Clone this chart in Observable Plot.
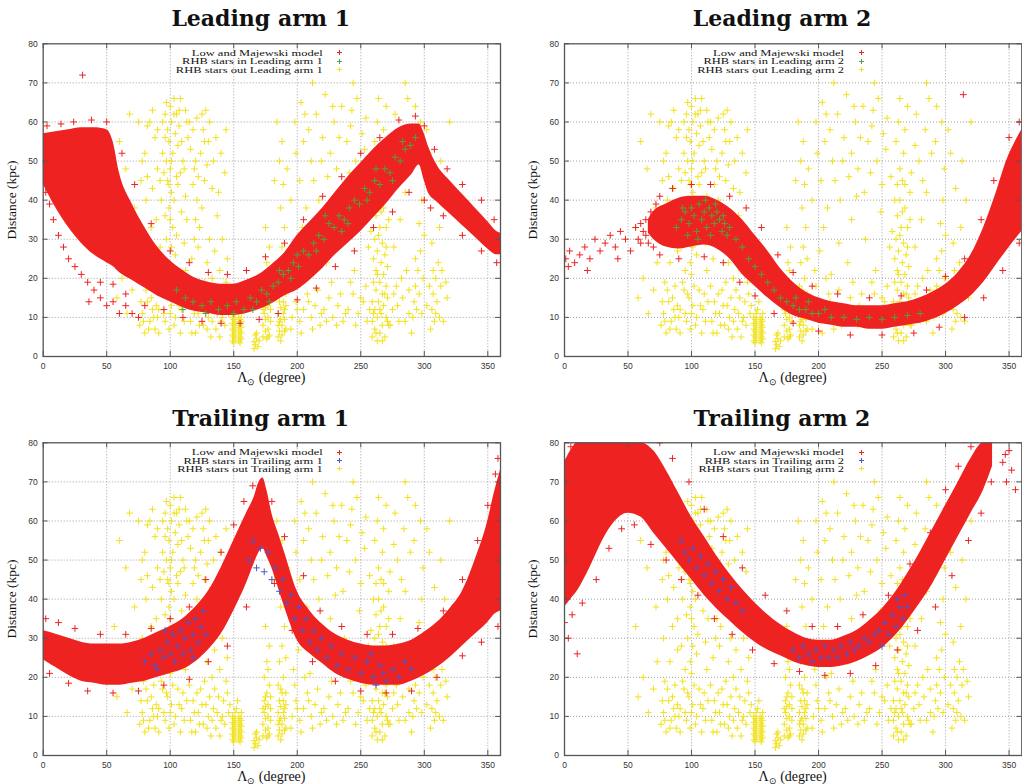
<!DOCTYPE html>
<html><head><meta charset="utf-8">
<script src="https://cdn.jsdelivr.net/npm/d3@7"></script>
<script src="https://cdn.jsdelivr.net/npm/@observablehq/plot@0.6"></script>
<style>
html,body{margin:0;padding:0;background:#fff;}
body{width:1022px;height:784px;overflow:hidden;position:relative;font-family:"Liberation Serif",serif;}
.abs{position:absolute;}
.title{position:absolute;font:bold 22px "DejaVu Serif",serif;text-align:center;width:400px;line-height:22px;color:#111;}
.xlab{position:absolute;font:14px "Liberation Serif",serif;text-align:center;width:200px;line-height:14px;color:#111;white-space:nowrap;}
.xlab sub{font-size:9px;vertical-align:-3px;line-height:0;}
.ylab{position:absolute;font:13.5px "Liberation Serif",serif;white-space:nowrap;transform:translate(-50%,-50%) rotate(-90deg);color:#111;}
.leg{position:absolute;font:12.5px "Liberation Serif",serif;line-height:12px;white-space:nowrap;color:#111;transform:scaleY(0.72);transform-origin:right center;}
</style></head>
<body>
<script>
// ---------- axes ----------
const xTicks = [0,50,100,150,200,250,300,350];
const yTicks = [0,10,20,30,40,50,60,70,80];
const xGrid = [50,100,150,200,250,300,350];
const yGrid = [10,20,30,40,50,60,70];
const titles = ["Leading arm 1","Leading arm 2","Trailing arm 1","Trailing arm 2"];
const legendModel = "Low and Majewski model";
const legendIn = ["RHB stars in Leading arm 1","RHB stars in Leading arm 2","RHB stars in Trailing arm 1","RHB stars in Trailing arm 2"];
const legendOut = ["RHB stars out Leading arm 1","RHB stars out Leading arm 2","RHB stars out Trailing arm 1","RHB stars out Trailing arm 2"];

// ---------- observed RHB stars (yellow; the same sample under every panel) ----------
const rhbOut = [
[96,62],[98,58],[100,64],[101,60],[99,55],[103,66],[102,52],[97,50],[104,57],[100,48],[98,45],[101,42],[103,40],[99,38],[100,35],[102,33],[97,30],[101,28],[104,26],[99,24],[100,21],[102,18],[98,15],[105,62],[107,59],[106,54],[108,47],[106,44],[109,37],[105,31],[94,52],[95,47],[93,40],[96,36],[92,28],[95,22],[94,17],[91,12],[96,9],[100,11],[103,8],[107,13],[110,16],[112,22],[111,29],[113,35],[112,41],[110,50],[114,56],[112,63],[115,60],[108,66],
[76,8],[78,11],[80,6],[82,14],[84,9],[86,12],[88,7],[90,10],[79,19],[83,24],[87,18],[89,27],[85,33],[81,40],[77,45],[80,52],[84,60],[88,56],[90,48],[86,43],[78,30],[75,60],[82,59],[89,35],
[116,9],[118,14],[120,6],[122,11],[124,17],[126,8],[128,13],[130,10],[132,5],[134,12],[136,7],[138,15],[140,9],[117,25],[119,30],[120,35],[121,40],[122,28],[118,44],[123,33],[125,38],[119,48],[124,52],[127,45],[129,24],[131,30],[133,20],[135,27],[137,36],[139,22],[126,58],[130,55],[134,50],[138,42],[128,63],[121,61],[142,14],[144,19],[146,11],[141,30],[143,47],[145,25],
[149,4],[149,5.5],[149,7],[149,8.5],[149,10],[150,3.5],[150,5],[150,6.5],[150,8],[150,9.5],[151,4.5],[151,6],[151,7.5],[151,9],[151,11],[154,4],[154,5.5],[154,7],[154,8.5],[154,10],[155,3.5],[155,5],[155,6.5],[155,8],[155,9.5],[156,4.5],[156,6],[156,7.5],[156,9],[156,11],[152,12],[153,14],
[166,2],[167,3],[168,4.5],[167,5.5],[169,2.5],[170,4],[168,6],[166,3.8],
[173,5],[173,8],[174,11],[174,14],[175,6.5],[175,9.5],[175,12.5],[176,4.5],[176,16],[177,7],[177,10],[177,13],[178,5.5],[178,18],[179,9],[179,12],[174,20],[176,24],[178,28],[175,33],[177,22],
[185,5],[185,8],[185,11],[186,14],[186,6.5],[187,9.5],[187,12.5],[187,17],[188,5.5],[188,8],[189,11],[189,14],[189,20],[190,6.5],[190,9.5],[191,13],[191,16],[186,24],[188,28],[190,33],[187,38],[189,44],[186,50],[188,55],[191,25],
[196,10],[199,14],[202,9],[205,12],[208,16],[211,10],[214,13],[218,8],[221,12],[225,15],[228,10],[232,13],[236,9],[240,12],[244,16],[248,11],[252,14],[255,9],
[197,22],[201,27],[204,33],[207,38],[210,21],[213,45],[216,29],[219,50],[223,24],[226,35],[230,41],[233,56],[237,30],[241,47],[245,22],[249,37],[253,53],[256,28],
[198,60],[203,65],[209,58],[215,62],[222,67],[229,60],[235,64],[242,59],[247,66],[254,61],[212,70],[244,70],[205,55],[226,52],[250,44],
[259,5],[259,9],[259,14],[260,19],[260,25],[261,7],[261,12],[261,30],[262,17],[262,22],[262,36],[263,4],[263,10],[263,27],[264,14],[264,40],[265,6],[265,19],[265,33],[266,11],[266,24],[266,45],[267,8],[267,16],[267,29],[268,13],[268,21],[268,38],[269,5],[269,26],[270,10],[270,18],[270,33],[271,15],[271,23],[272,8],[272,42],[264,48],[267,52],[263,60],[270,64],
[275,12],[278,18],[280,9],[283,15],[286,22],[288,11],[276,28],[281,35],[285,42],[279,50],[284,58],[287,66],[285,70],[277,62],
[291,10],[292,14],[293,18],[294,12],[295,22],[296,16],[297,27],[298,11],[299,20],[300,31],[293,25],[296,34],[298,40],[292,55],[297,60],
[305,7],[306,12],[307,16],[308,9],[309,20],[310,14],[311,24],[312,10],[313,18],[314,22],[306,29],[312,33],[318,15],[320,60],[304,52],
[58,15],[62,20],[66,11],[70,17],[73,24],[60,55],[65,48],[68,62],[72,38],[56,33],
[77,14],[79,9],[81,17],[83,7],[85,15],[87,10],[89,13],[91,6],[93,19],[95,11],[97,16],[99,7],[101,13],[104,10],[106,17],[108,6],[109,12],[111,9],[113,14],[115,18],[117,6],[119,11],[121,16],[123,8],[125,13],[127,19],[129,7],[131,15],[133,9],[135,17],[137,11],[139,5],[141,10],[143,8],[145,16],[147,13],
[195,7],[198,18],[200,12],[203,6],[206,20],[209,14],[212,7],[216,17],[219,11],[223,9],[227,19],[231,8],[234,16],[238,11],[242,19],[246,8],[250,15],[254,18],[257,12],[273,8],[276,16],[279,13],[282,20],[285,9],[288,17],[290,6],[302,13],[304,18],[307,22],[309,11],[315,9],[317,19],
[78,50],[82,46],[86,63],[90,58],[92,45],[94,60],[96,56],[97,65],[99,44],[101,50],[103,62],[105,46],[107,63],[109,55],[111,48],[113,60],[116,53],[118,58],[120,50],[122,46],[125,62],[127,55],[129,49],[131,60],[133,43],[136,56],[140,52],[144,58],
[182,45],[184,60],[192,48],[195,40],[199,52],[202,45],[206,62],[211,50],[217,40],[220,56],[224,46],[228,64],[231,48],[236,42],[239,55],[243,63],[246,50],[251,57],[257,46],[261,55],[264,66],[268,58],[273,47],[276,54],[282,45],[289,52],[293,64],[299,48],[302,58],[308,43],[313,50],[316,40],
[258,32],[260,40],[262,44],[264,31],[266,37],[268,44],[270,28],[272,35],[263,21],[265,12],[267,4],[269,16],[271,9],[260,11],[262,6],
[173,12],[175,15],[177,5],[179,15],[186,9],[188,16],[190,12],[185,18],[187,4],[191,7]
];

// ---------- Leading arm 1 ----------
const la1Lam = [0,10,20,30,40,50,55,60,70,80,90,100,110,120,130,140,150,160,170,180,190,200,210,220,230,240,250,260,270,280,290,296,300,303,310,320,330,340,350,357,360];
const la1Lo  = [44,38,33,29,26,24,23,21.5,19.5,17.5,15.5,14,12.5,11.5,11,10.5,10.5,11,12,13.5,15.5,17,19.5,22.5,26,29,32,35.5,39,43,46.5,49,45,42,39.5,36.5,33.5,30.5,27.5,26,26];
const la1Hi  = [57,57.5,58,58.5,58.5,58,55,47,39,33,28,24.5,22,20,19,18.5,18.5,19.5,21,23.5,26.5,31,34.5,38,42,46,49.5,53,56,58.5,59.5,59.5,57,54,49,45,41.5,38,34.5,32,31.5];
const la1Model = [[31,72],[2,42],[5,39],[8,35],[12,31],[16,28],[20,25],[25,23],[30,21],[35,19],[40,17],[45,15],[50,13],[55,14],[60,11],[65,13],[70,11],[75,10],[36,14],[45,19],[55,18.5],[65,16],[80,13],[95,12],[110,10],[125,9],[140,8.5],[155,8.5],[170,9.5],[185,11],[200,14.5],[215,17.5],[230,23],[245,27],[260,33],[275,37],[288,42],[300,40],[305,38],[315,36],[330,31],[345,27],[357,24],[3,59],[14,59.5],[24,60],[38,60.5],[50,60],[62,52],[72,44],[85,34],[100,27],[115,24],[130,21.5],[145,21],[160,22],[175,25.5],[190,29],[205,35],[220,41],[235,46],[250,52],[265,56],[280,60.5],[293,61.5],[300,59],[308,53],[318,48],[330,44],[345,40],[355,35]];
const la1In = [[105,17],[112,15],[118,14],[125,13],[132,14],[138,12],[145,13],[152,14],[158,12],[163,15],[168,14],[172,17],[176,16],[181,18],[185,19],[189,21],[193,22],[197,24],[201,23],[205,27],[209,26],[213,29],[217,31],[221,30],[225,34],[229,33],[233,36],[237,35],[241,38],[245,40],[249,39],[253,43],[257,42],[261,45],[265,44],[269,48],[273,47],[277,51],[281,50],[285,53],[289,54],[293,56],[110,12],[128,11],[150,11],[165,12],[178,14],[195,20],[215,27],[235,32],[255,40],[275,45],[240,34],[222,36],[200,26],[186,22],[262,48],[283,55]];

// ---------- Leading arm 2 ----------
const la2Lam = [66,70,80,90,100,110,120,130,140,150,160,170,180,190,200,210,220,230,240,250,260,270,280,290,300,310,320,330,340,348,355,360];
const la2Lo  = [31.5,30,28,27.5,28,28.5,27.5,25,21,18,15,12.5,10.5,9.5,8.5,8,7.5,7.5,7,7,7.5,8,8.5,9.5,11,13,15.5,19,23.5,27,30,32];
const la2Hi  = [35,37,39,40.5,41,41,40,38,35,31,27,22.5,19,16.5,15,14,13.5,13,13,13,13.5,14,15,16.5,18.5,21.5,26,33,42,50,55,58];
const la2Model = [[1,25],[4,27],[8,24],[12,26],[16,28],[20,25],[24,30],[28,27],[32,29],[36,31],[40,28],[44,32],[48,30],[52,27],[56,33],[60,29],[64,31],[3,23],[18,22],[42,25],[314,67],[62,32],[64,35],[66,29],[68,37],[70,28],[72,39],[60,34],[58,30],[75,41],[85,43],[100,44],[115,44],[130,41],[143,38],[155,33],[168,26],[180,21.5],[195,18],[215,16],[240,15],[265,15.5],[285,17],[300,20.5],[315,25],[328,35],[338,45],[350,56],[358,60],[75,26],[90,25],[110,25.5],[125,24],[138,19],[150,15.5],[165,11],[180,8.5],[200,6.5],[225,5.5],[250,5.5],[275,6],[295,7.5],[315,10],[330,15],[345,22],[358,29]];
const la2In = [[88,33],[92,35],[95,37],[98,34],[100,38],[102,36],[104,32],[106,39],[108,35],[110,37],[112,33],[114,38],[116,36],[118,34],[120,37],[122,35],[124,32],[126,34],[128,31],[130,33],[97,31],[105,30],[115,31],[125,36],[135,30],[140,28],[145,25],[150,23],[155,21],[160,19],[165,17],[170,15],[175,14],[180,13],[185,12],[190,12],[195,11],[200,11],[210,10],[220,10],[230,9.5],[240,10],[250,9.5],[260,10],[270,10.5],[280,11],[93,38],[111,40],[119,39],[182,15],[192,14],[205,12]];

// ---------- Trailing arm 1 ----------
const ta1Lam = [0,5,10,20,30,40,50,60,70,80,90,100,110,120,130,140,150,160,166,170,173,176,180,185,190,200,210,220,230,240,250,260,270,280,290,300,310,320,330,340,350,355,360];
const ta1Lo  = [24.5,23.5,22.5,20.5,19,18.5,18,18,18.5,19,20,21,22,24,27,31,37,44,49,52,53,51,48,43,38,29.5,26,23.5,21,19.5,18.5,18,18,18,19,20.5,22.5,25,28,31,34,36,37];
const ta1Hi  = [32,31.5,31,30,29,28.5,28.5,28.5,29,30,31.5,33,35,38,42,48,55,62,66,70,71,68,62,57,52,42,37,33.5,31,29.5,28.5,28,28,28.5,29.5,31.5,34,37.5,42,50,60,67,73];
const ta1Model = [[2,35],[12,34],[25,32.5],[45,31],[65,31],[85,32.5],[100,35],[115,38],[128,45],[140,52],[150,59],[158,65],[165,69],[180,65],[190,56],[205,46],[218,37],[235,33],[255,31],[275,31],[295,32.5],[315,37],[330,45],[342,55],[350,64],[356,72],[358,76],[5,21],[20,18.5],[35,16.5],[55,16],[75,16.5],[95,18],[115,19.5],[130,24],[145,28],[160,38],[182,44],[196,32],[212,24],[230,19],[250,16.5],[270,16],[290,16.5],[310,20],[330,25.5],[345,29],[358,33]];
const ta1In = [[80,24],[85,26],[88,23],[92,27],[95,25],[98,29],[100,26],[102,31],[104,24],[106,28],[108,32],[110,26],[112,30],[114,34],[116,27],[118,31],[120,35],[122,29],[124,33],[126,37],[128,31],[96,32],[90,22],[118,25],[162,50],[165,55],[168,48],[171,53],[174,47],[177,52],[180,45],[183,48],[186,42],[189,45],[192,39],[195,41],[198,35],[201,38],[204,32],[207,35],[210,29],[213,32],[216,27],[219,30],[223,25],[227,28],[231,23],[235,26],[240,22],[245,25],[250,21],[255,24],[260,20],[265,23],[270,19],[275,22],[280,20],[285,24],[290,22],[258,26],[262,18],[268,21]];

// ---------- Trailing arm 2 ----------
const ta2Lam = [0,5,10,20,30,40,50,60,70,80,90,100,110,120,130,140,150,160,170,180,190,200,210,220,230,240,250,260,270,280,290,300,310,320,330,337];
const ta2Lo  = [38,40,42,48,55,60,62,61,57,53,49,45,41,37.5,34.5,31.5,29,27,25.5,24,23,22.5,22.5,23,24,25.5,27.5,30.5,34.5,39,44,50,56,62,68,74];
const ta2Hi  = [75,78,80,80,80,80,80,80,78,73,67,61,56,51,46.5,42.5,39,36,33.5,31.5,30,29.5,29.5,30.5,32,34.5,37.5,41.5,46.5,52,58,64,70,76,80,80];
const ta2Model = [[0,34],[3,30],[6,36],[10,26],[2,40],[14,39],[25,45],[35,53],[45,58],[55,59],[68,54],[80,50],[92,45],[105,41],[118,35],[132,31],[148,27],[165,23.5],[185,21.5],[205,20.5],[225,21],[245,23],[262,27],[278,32],[292,38],[305,46],[318,55],[328,62],[336,70],[345,75],[348,70],[350,78],[352,73],[355,68],[347,77],[75,80],[85,76],[98,70],[110,63],[125,56],[140,48],[158,41],[175,37],[195,33],[215,33],[235,36],[255,41],[272,49],[288,57],[300,68],[310,74],[320,79],[5,79]];
const ta2In = [[92,55],[95,52],[98,50],[101,53],[104,48],[107,51],[110,46],[113,49],[116,44],[119,47],[122,42],[125,45],[128,40],[131,43],[135,39],[140,37],[180,27],[185,25],[188,28],[192,26],[195,24],[198,27],[202,25],[205,28],[208,25],[212,27],[215,25],[218,28],[222,26],[225,29],[228,27],[232,28],[236,30],[240,29],[244,31],[248,32],[252,34],[255,31],[258,36],[261,33],[264,38],[266,35],[268,41],[270,38],[262,40],[250,28]];

// ---------- colours ----------
const RED = "#ef2222", YEL = "#f1e21c", GRN = "#4fa43c", BLU = "#5454c4";

const panels = [
  {lam:la1Lam, lo:la1Lo, hi:la1Hi, model:la1Model, inn:la1In, inColor:GRN, left:0, top:0, ml:42.7, mr:10},
  {lam:la2Lam, lo:la2Lo, hi:la2Hi, model:la2Model, inn:la2In, inColor:GRN, left:521, top:0, ml:43, mr:1},
  {lam:ta1Lam, lo:ta1Lo, hi:ta1Hi, model:ta1Model, inn:ta1In, inColor:BLU, left:0, top:399.4, ml:42.7, mr:10},
  {lam:ta2Lam, lo:ta2Lo, hi:ta2Hi, model:ta2Model, inn:ta2In, inColor:BLU, left:521, top:399.4, ml:43, mr:1}
];
const PW = 457.3, PH = 312.7, MT = 43.3, MB = 28;

function addDiv(cls, html, style) {
  const d = document.createElement("div");
  d.className = cls; d.innerHTML = html;
  Object.assign(d.style, style);
  document.body.appendChild(d);
  return d;
}
function plusSvg(color) {
  return `<svg width="7" height="7" style="position:absolute;left:-3.5px;top:-3.5px"><path d="M1,3.5h5M3.5,1v5" stroke="${color}" stroke-width="1"/></svg>`;
}

panels.forEach((p, i) => {
  const band = p.lam.map((l, k) => ({lam: l, lo: p.lo[k], hi: p.hi[k]}));
  const xy = {x: d => d[0], y: d => d[1], symbol: "plus", r: 2.3, strokeWidth: 1, clip: true};
  const width = p.ml + PW + p.mr;
  const chart = Plot.plot({
    width, height: MT + PH + MB,
    marginLeft: p.ml, marginRight: p.mr, marginTop: MT, marginBottom: MB,
    style: {fontFamily: "Liberation Sans, Arial, sans-serif", fontSize: "8.5px", color: "#333", background: "transparent", overflow: "visible"},
    x: {domain: [0, 360], ticks: xTicks, tickSize: 0, tickPadding: 6, label: null},
    y: {domain: [0, 80], ticks: yTicks, tickSize: 0, tickPadding: 5.5, label: null},
    marks: [
      Plot.ruleX(xGrid, {stroke: "#8a8a8a", strokeDasharray: "1,2", strokeWidth: 0.8}),
      Plot.ruleY(yGrid, {stroke: "#8a8a8a", strokeDasharray: "1,2", strokeWidth: 0.8}),
      Plot.dot(rhbOut, {...xy, stroke: YEL}),
      Plot.areaY(band, {x: "lam", y1: "lo", y2: "hi", fill: RED, curve: "monotone-x", clip: true}),
      Plot.dot(p.model, {...xy, stroke: RED}),
      Plot.dot(p.inn, {...xy, stroke: p.inColor}),
      Plot.ruleX(xTicks, {x: d => d, y1: 0, y2: 1.3, stroke: "#555"}),
      Plot.ruleX(xTicks, {x: d => d, y1: 78.7, y2: 80, stroke: "#555"}),
      Plot.ruleY(yTicks, {y: d => d, x1: 0, x2: 3.9, stroke: "#555"}),
      Plot.ruleY(yTicks, {y: d => d, x1: 356.1, x2: 360, stroke: "#555"}),
      Plot.frame({stroke: "#555", strokeWidth: 1.3})
    ]
  });
  chart.style.position = "absolute";
  chart.style.left = p.left + "px";
  chart.style.top = p.top + "px";
  document.body.appendChild(chart);

  const plotLeft = p.left + p.ml, plotTop = p.top + MT;
  const cx = plotLeft + PW / 2;
  addDiv("title", titles[i], {left: (plotLeft + 218 - 200) + "px", top: (plotTop - 36) + "px"});
  addDiv("xlab", "Λ<sub>⊙</sub> (degree)", {left: (cx - 100) + "px", top: (plotTop + PH + 14.5) + "px"});
  addDiv("ylab", "Distance (kpc)", {left: (plotLeft - 31) + "px", top: (plotTop + PH / 2) + "px"});
  const rows = [[legendModel, RED], [legendIn[i], p.inColor], [legendOut[i], YEL]];
  rows.forEach(([txt, col], r) => {
    const cy = plotTop + 9.4 + r * 8.4;
    addDiv("leg", txt, {right: (1022 - (plotLeft + 280)) + "px", top: (cy - 6) + "px"});
    addDiv("abs", plusSvg(col), {left: (plotLeft + 297) + "px", top: cy + "px"});
  });
});
</script>
</body></html>
